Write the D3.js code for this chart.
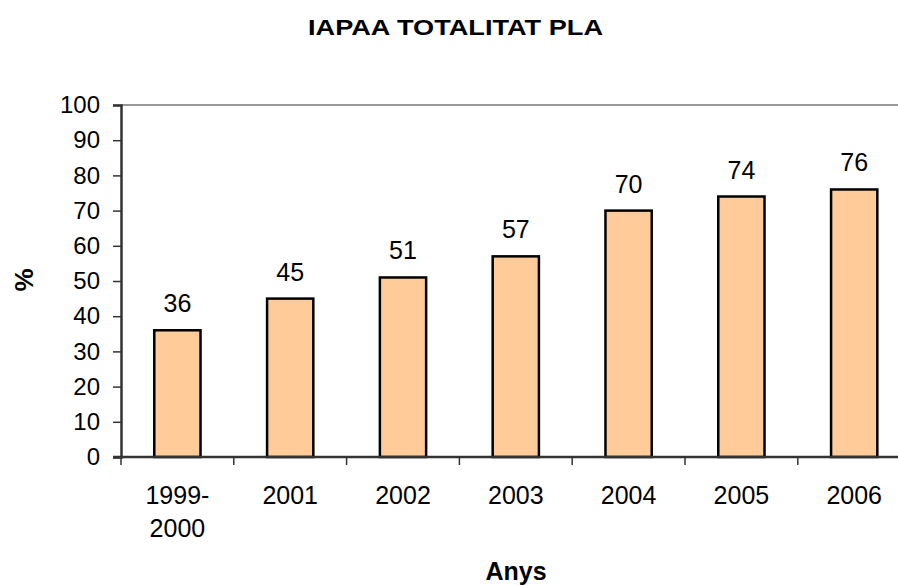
<!DOCTYPE html>
<html lang='ca'>
	<head>
		<title>IAPAA totalitat pla</title>
		<meta charset=utf-8>
		<script src="https://cdn.jsdelivr.net/npm/d3@7"></script>
		<style>
			body {
				margin: 0;
				background-color: white;
			}
			text {
				font-family: "Liberation Sans", Arial, sans-serif;
				fill: black;
			}
		</style>
	</head>
	<body>
		<svg id='chart' width="898" height="585"></svg>
	</body>

	<script>
		// data
		var categories = [['1999-', '2000'], ['2001'], ['2002'], ['2003'], ['2004'], ['2005'], ['2006']];
		var values = [36, 45, 51, 57, 70, 74, 76];
		var yTicks = [0, 10, 20, 30, 40, 50, 60, 70, 80, 90, 100];

		var svg = d3.select('#chart');

		// plot area - runs past the right edge like the original
		var pLeft = 121, pRight = 910.6, pTop = 105, pBottom = 457;

		var x = d3.scaleBand()
			.domain(d3.range(categories.length))
			.range([pLeft, pRight])
			.paddingInner(0.59)
			.paddingOuter(0.295);
		var y = d3.scaleLinear().domain([0, 100]).range([pBottom, pTop]);

		// title (stretched wide like the original)
		svg.append('text').text('IAPAA TOTALITAT PLA')
			.attr('x', 455.5).attr('y', 35)
			.attr('text-anchor', 'middle')
			.attr('textLength', 295)
			.attr('lengthAdjust', 'spacingAndGlyphs')
			.style('font-size', '22px').style('font-weight', 'bold');

		// top border
		svg.append('line')
			.attr('x1', pLeft).attr('x2', 898)
			.attr('y1', pTop).attr('y2', pTop)
			.attr('stroke', '#999').attr('stroke-width', 2);

		// bars
		svg.selectAll('rect.bar').data(values).enter().append('rect')
			.attr('class', 'bar')
			.attr('x', function(d, i) { return x(i); })
			.attr('y', function(d) { return y(d); })
			.attr('width', x.bandwidth())
			.attr('height', function(d) { return pBottom - y(d); })
			.attr('fill', '#FFCC99')
			.attr('stroke', 'black')
			.attr('stroke-width', 2.5);

		// value labels
		svg.selectAll('text.val').data(values).enter().append('text')
			.attr('class', 'val')
			.attr('x', function(d, i) { return x(i) + x.bandwidth() / 2; })
			.attr('y', function(d) { return y(d) - 18; })
			.attr('text-anchor', 'middle')
			.style('font-size', '25px')
			.text(function(d) { return d; });

		// y axis
		var yAxis = svg.append('g')
			.attr('transform', 'translate(' + pLeft + ',0)')
			.call(d3.axisLeft(y).tickValues(yTicks).tickSize(8).tickPadding(13));
		yAxis.select('.domain').attr('stroke', '#333').attr('stroke-width', 2.5);
		yAxis.selectAll('.tick line').attr('stroke', '#333').attr('stroke-width', 1.5);
		yAxis.selectAll('.tick text')
			.style('font-size', '24px')
			.style('font-family', '"Liberation Sans", Arial, sans-serif')
			.attr('fill', 'black');

		// x axis line and boundary ticks
		svg.append('line')
			.attr('x1', pLeft - 8).attr('x2', 898)
			.attr('y1', pBottom).attr('y2', pBottom)
			.attr('stroke', '#333').attr('stroke-width', 2.5);
		var step = x.step();
		svg.selectAll('line.xt').data(d3.range(categories.length + 1)).enter().append('line')
			.attr('class', 'xt')
			.attr('x1', function(d) { return pLeft + d * step; })
			.attr('x2', function(d) { return pLeft + d * step; })
			.attr('y1', pBottom).attr('y2', pBottom + 8)
			.attr('stroke', '#333').attr('stroke-width', 1.5);

		// category labels
		var cat = svg.selectAll('text.cat').data(categories).enter().append('text')
			.attr('class', 'cat')
			.attr('text-anchor', 'middle')
			.style('font-size', '25px');
		cat.selectAll('tspan').data(function(d, i) { return d.map(function(s) { return [s, i]; }); })
			.enter().append('tspan')
			.attr('x', function(d) { return x(d[1]) + x.bandwidth() / 2; })
			.attr('y', function(d, j) { return 504 + j * 33; })
			.text(function(d) { return d[0]; });

		// axis titles
		svg.append('text').text('Anys')
			.attr('x', 516).attr('y', 580)
			.attr('text-anchor', 'middle')
			.style('font-size', '25px').style('font-weight', 'bold');

		svg.append('text').text('%')
			.attr('transform', 'translate(33,280) rotate(-90)')
			.attr('text-anchor', 'middle')
			.style('font-size', '26px').style('font-weight', 'bold');
	</script>
</html>
